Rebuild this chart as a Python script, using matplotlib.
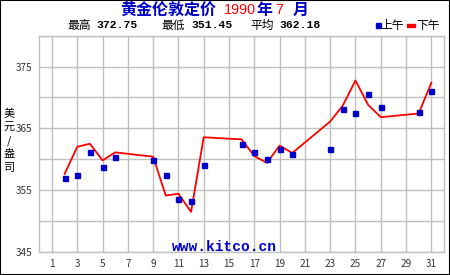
import matplotlib.pyplot as plt
from matplotlib.patches import Rectangle

plt.rcParams['font.family'] = ['Noto Sans CJK SC', 'DejaVu Sans']

am_days = [2, 3, 4, 5, 6, 9, 10, 11, 12, 13, 16, 17, 18, 19, 20, 23, 24, 25, 26, 27, 30, 31]
am_price = [357.0, 357.4, 361.2, 358.8, 360.3, 359.8, 357.5, 353.6, 353.2, 359.0, 362.4,
            361.2, 360.1, 361.6, 360.8, 361.7, 368.2, 367.4, 370.6, 368.5, 367.7, 371.1]
pm_days = am_days
pm_price = [357.6, 362.0, 362.5, 359.8, 361.1, 360.4, 354.1, 354.4, 351.45, 363.55, 363.2,
            360.5, 359.4, 362.2, 361.0, 366.1, 368.7, 372.75, 368.8, 366.8, 367.4, 372.4]
x_ticks = list(range(1, 32, 2))
y_ticks = [345, 355, 365, 375]

blue = '#0000c8'
red = '#ff0000'
grid = '#c0c0c0'
W, H = 450, 275


def px(x, y):
    # pixel position (from top-left) -> figure fraction
    return x / W, 1 - y / H


fig = plt.figure(figsize=(4.5, 2.75), dpi=100)
fig.patches.append(Rectangle((0, 0), 1, 1, transform=fig.transFigure, fill=False,
                             edgecolor='black', linewidth=1.5))
ax = fig.add_axes([0.0873, 0.0847, 0.8994, 0.7853])

ax.plot(pm_days, pm_price, color=red, linewidth=1.3, zorder=3)
ax.plot(am_days, am_price, 's', color=blue, markersize=3.6, zorder=4)

ax.set_xlim(0, 32)
ax.set_ylim(345, 380)
ax.set_xticks(x_ticks)
ax.set_yticks(y_ticks)
ax.set_yticks(range(345, 381, 5), minor=True)
ax.grid(True, which='both', color=grid, linewidth=1)
ax.set_axisbelow(True)
for s in ax.spines.values():
    s.set_color(grid)
    s.set_linewidth(1)
ax.tick_params(length=0, labelsize=7.2, colors='#333333', pad=5)
ax.tick_params(which='minor', length=0)

fig.text(*px(172, 247), 'www.kitco.cn', ha='left', va='center',
         color=blue, fontsize=10.5, fontweight='bold', family='Liberation Mono')

# vertical y label, one character per line
for ch, y in zip('美元/盎司', [114, 127, 140.5, 154, 167.5]):
    fig.text(*px(9, y), ch, ha='center', va='center', fontsize=8, color='black')

# title
ty = 10
fig.text(*px(120, ty), '黄金伦敦定价', color=blue, fontsize=11.5, fontweight='bold', va='center')
fig.text(*px(224, ty + 0.5), '1990', color=red, fontsize=10.4, va='center', family='Liberation Sans')
fig.text(*px(256, ty), '年', color=blue, fontsize=11.5, fontweight='bold', va='center')
fig.text(*px(275, ty + 0.5), '7', color=red, fontsize=10.4, va='center', family='Liberation Sans')
fig.text(*px(293, ty), '月', color=blue, fontsize=11.5, fontweight='bold', va='center')

# summary line
sy = 25.5
for x0, x1, lab, val in [(67, 96, '最高', '372.75'), (161, 191, '最低', '351.45'),
                         (250, 279, '平均', '362.18')]:
    fig.text(*px(x0, sy), lab, fontsize=8.5, va='center')
    fig.text(*px(x1, sy), val, fontsize=8.2, fontweight='bold', va='center',
             family='Liberation Mono')

fig.patches.append(Rectangle(px(376, 28), 5 / W, 5 / H, transform=fig.transFigure, color=blue))
fig.text(*px(380.5, sy), '上午', fontsize=8.5, va='center')
fig.patches.append(Rectangle(px(407, 26.5), 8 / W, 2 / H, transform=fig.transFigure, color=red))
fig.text(*px(416, sy), '下午', fontsize=8.5, va='center')

fig.savefig('out.png', dpi=100)
